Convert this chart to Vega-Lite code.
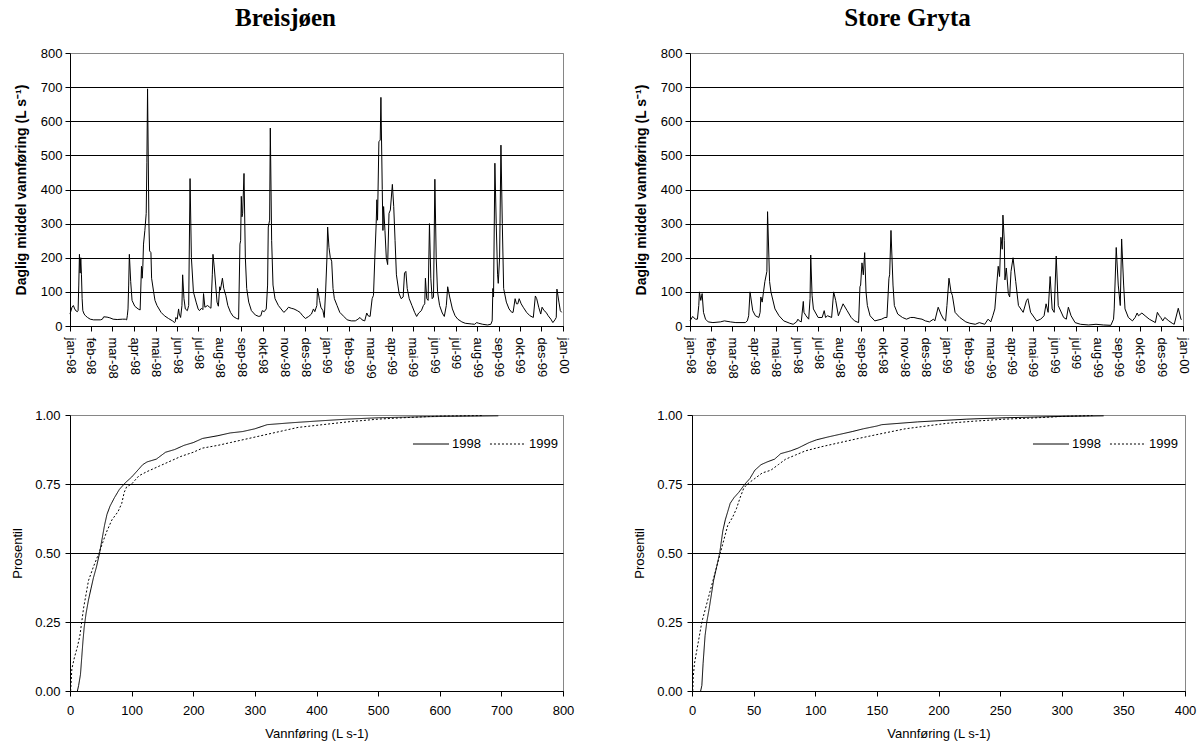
{
  "$schema": "https://vega.github.io/schema/vega-lite/v6.json",
  "padding": {"left": 11, "top": 5, "right": 0, "bottom": 0},
  "background": "#ffffff",
  "config": {
    "font": "Liberation Sans",
    "view": {"stroke": "#868686", "strokeWidth": 1},
    "axis": {"labelFont": "Liberation Sans", "labelFontSize": 13, "labelColor": "#000", "titleFont": "Liberation Sans", "titleFontSize": 13, "titleColor": "#000", "titleFontWeight": "normal", "domainColor": "#000", "domainWidth": 1, "tickColor": "#000", "tickWidth": 1, "tickSize": 5, "gridColor": "#000", "gridWidth": 1, "labelFlush": false, "labelOverlap": false, "labelBound": false},
    "title": {"font": "Liberation Serif", "fontSize": 25, "fontWeight": "bold", "color": "#000", "anchor": "middle"},
    "legend": {"labelFont": "Liberation Sans", "labelFontSize": 13, "labelColor": "#000"}
  },
  "datasets": {
    "breis": [
      {"date":"1998-01-01","q":35},{"date":"1998-01-04","q":55},{"date":"1998-01-06","q":60},{"date":"1998-01-08","q":50},{"date":"1998-01-10","q":44},{"date":"1998-01-12","q":42},{"date":"1998-01-13","q":45},{"date":"1998-01-14","q":120},{"date":"1998-01-15","q":210},{"date":"1998-01-16","q":155},{"date":"1998-01-17","q":200},{"date":"1998-01-18","q":150},{"date":"1998-01-19","q":80},{"date":"1998-01-20","q":45},{"date":"1998-01-22","q":35},{"date":"1998-01-24","q":30},{"date":"1998-01-27","q":25},{"date":"1998-01-31","q":20},{"date":"1998-02-05","q":18},{"date":"1998-02-15","q":18},{"date":"1998-02-18","q":20},{"date":"1998-02-20","q":27},{"date":"1998-02-25","q":26},{"date":"1998-03-01","q":24},{"date":"1998-03-06","q":20},{"date":"1998-03-12","q":19},{"date":"1998-03-20","q":20},{"date":"1998-03-24","q":20},{"date":"1998-03-26","q":18},{"date":"1998-03-27","q":30},{"date":"1998-03-28","q":50},{"date":"1998-03-29","q":120},{"date":"1998-03-30","q":210},{"date":"1998-04-01","q":130},{"date":"1998-04-03","q":75},{"date":"1998-04-07","q":58},{"date":"1998-04-12","q":50},{"date":"1998-04-15","q":47},{"date":"1998-04-17","q":175},{"date":"1998-04-18","q":140},{"date":"1998-04-19","q":175},{"date":"1998-04-20","q":240},{"date":"1998-04-22","q":280},{"date":"1998-04-24","q":330},{"date":"1998-04-25","q":480},{"date":"1998-04-26","q":695},{"date":"1998-04-28","q":300},{"date":"1998-04-29","q":220},{"date":"1998-05-01","q":215},{"date":"1998-05-02","q":140},{"date":"1998-05-05","q":100},{"date":"1998-05-07","q":75},{"date":"1998-05-10","q":60},{"date":"1998-05-16","q":40},{"date":"1998-05-21","q":30},{"date":"1998-05-27","q":22},{"date":"1998-06-02","q":15},{"date":"1998-06-05","q":10},{"date":"1998-06-06","q":12},{"date":"1998-06-07","q":25},{"date":"1998-06-09","q":20},{"date":"1998-06-11","q":50},{"date":"1998-06-12","q":35},{"date":"1998-06-14","q":25},{"date":"1998-06-16","q":60},{"date":"1998-06-17","q":150},{"date":"1998-06-19","q":80},{"date":"1998-06-21","q":50},{"date":"1998-06-24","q":45},{"date":"1998-06-26","q":60},{"date":"1998-06-28","q":432},{"date":"1998-06-30","q":200},{"date":"1998-07-03","q":100},{"date":"1998-07-07","q":70},{"date":"1998-07-10","q":50},{"date":"1998-07-12","q":45},{"date":"1998-07-15","q":52},{"date":"1998-07-17","q":48},{"date":"1998-07-18","q":95},{"date":"1998-07-20","q":55},{"date":"1998-07-24","q":60},{"date":"1998-07-27","q":55},{"date":"1998-07-29","q":52},{"date":"1998-07-31","q":150},{"date":"1998-08-01","q":210},{"date":"1998-08-03","q":170},{"date":"1998-08-05","q":120},{"date":"1998-08-07","q":70},{"date":"1998-08-09","q":58},{"date":"1998-08-11","q":115},{"date":"1998-08-12","q":105},{"date":"1998-08-15","q":140},{"date":"1998-08-17","q":110},{"date":"1998-08-20","q":90},{"date":"1998-08-23","q":60},{"date":"1998-08-27","q":40},{"date":"1998-08-31","q":28},{"date":"1998-09-05","q":22},{"date":"1998-09-08","q":20},{"date":"1998-09-10","q":240},{"date":"1998-09-11","q":250},{"date":"1998-09-12","q":380},{"date":"1998-09-13","q":320},{"date":"1998-09-14","q":330},{"date":"1998-09-16","q":447},{"date":"1998-09-18","q":200},{"date":"1998-09-20","q":110},{"date":"1998-09-23","q":70},{"date":"1998-09-27","q":45},{"date":"1998-10-03","q":32},{"date":"1998-10-08","q":28},{"date":"1998-10-11","q":30},{"date":"1998-10-13","q":45},{"date":"1998-10-16","q":42},{"date":"1998-10-19","q":50},{"date":"1998-10-21","q":120},{"date":"1998-10-22","q":290},{"date":"1998-10-24","q":310},{"date":"1998-10-25","q":580},{"date":"1998-10-27","q":250},{"date":"1998-10-29","q":120},{"date":"1998-11-01","q":80},{"date":"1998-11-06","q":60},{"date":"1998-11-10","q":50},{"date":"1998-11-14","q":40},{"date":"1998-11-17","q":45},{"date":"1998-11-21","q":55},{"date":"1998-11-25","q":52},{"date":"1998-11-29","q":50},{"date":"1998-12-04","q":45},{"date":"1998-12-08","q":40},{"date":"1998-12-12","q":30},{"date":"1998-12-16","q":22},{"date":"1998-12-21","q":28},{"date":"1998-12-25","q":35},{"date":"1998-12-28","q":50},{"date":"1998-12-30","q":42},{"date":"1999-01-02","q":60},{"date":"1999-01-03","q":110},{"date":"1999-01-06","q":75},{"date":"1999-01-08","q":55},{"date":"1999-01-11","q":45},{"date":"1999-01-13","q":25},{"date":"1999-01-15","q":100},{"date":"1999-01-17","q":200},{"date":"1999-01-18","q":290},{"date":"1999-01-20","q":230},{"date":"1999-01-22","q":200},{"date":"1999-01-24","q":190},{"date":"1999-01-26","q":110},{"date":"1999-01-28","q":80},{"date":"1999-02-01","q":60},{"date":"1999-02-05","q":40},{"date":"1999-02-11","q":28},{"date":"1999-02-16","q":18},{"date":"1999-02-22","q":15},{"date":"1999-02-28","q":15},{"date":"1999-03-04","q":20},{"date":"1999-03-07","q":25},{"date":"1999-03-10","q":18},{"date":"1999-03-14","q":15},{"date":"1999-03-17","q":38},{"date":"1999-03-19","q":30},{"date":"1999-03-22","q":28},{"date":"1999-03-25","q":80},{"date":"1999-03-27","q":90},{"date":"1999-03-29","q":200},{"date":"1999-03-31","q":300},{"date":"1999-04-01","q":370},{"date":"1999-04-02","q":310},{"date":"1999-04-04","q":540},{"date":"1999-04-06","q":545},{"date":"1999-04-07","q":670},{"date":"1999-04-09","q":400},{"date":"1999-04-10","q":280},{"date":"1999-04-11","q":350},{"date":"1999-04-13","q":280},{"date":"1999-04-15","q":200},{"date":"1999-04-17","q":180},{"date":"1999-04-19","q":330},{"date":"1999-04-21","q":340},{"date":"1999-04-24","q":415},{"date":"1999-04-26","q":350},{"date":"1999-04-28","q":250},{"date":"1999-04-30","q":150},{"date":"1999-05-04","q":95},{"date":"1999-05-07","q":80},{"date":"1999-05-10","q":85},{"date":"1999-05-12","q":155},{"date":"1999-05-14","q":160},{"date":"1999-05-16","q":110},{"date":"1999-05-19","q":80},{"date":"1999-05-23","q":60},{"date":"1999-05-27","q":40},{"date":"1999-05-30","q":28},{"date":"1999-06-02","q":38},{"date":"1999-06-06","q":45},{"date":"1999-06-09","q":60},{"date":"1999-06-11","q":65},{"date":"1999-06-12","q":140},{"date":"1999-06-14","q":80},{"date":"1999-06-16","q":75},{"date":"1999-06-18","q":300},{"date":"1999-06-20","q":140},{"date":"1999-06-22","q":80},{"date":"1999-06-24","q":85},{"date":"1999-06-26","q":430},{"date":"1999-06-28","q":200},{"date":"1999-06-30","q":100},{"date":"1999-07-03","q":60},{"date":"1999-07-07","q":38},{"date":"1999-07-10","q":28},{"date":"1999-07-13","q":60},{"date":"1999-07-15","q":115},{"date":"1999-07-18","q":85},{"date":"1999-07-22","q":50},{"date":"1999-07-26","q":30},{"date":"1999-07-30","q":20},{"date":"1999-08-05","q":12},{"date":"1999-08-10","q":8},{"date":"1999-08-19","q":6},{"date":"1999-08-24","q":5},{"date":"1999-08-27","q":10},{"date":"1999-08-30","q":8},{"date":"1999-09-05","q":5},{"date":"1999-09-12","q":3},{"date":"1999-09-17","q":5},{"date":"1999-09-19","q":15},{"date":"1999-09-20","q":110},{"date":"1999-09-21","q":85},{"date":"1999-09-23","q":477},{"date":"1999-09-25","q":300},{"date":"1999-09-27","q":150},{"date":"1999-09-28","q":125},{"date":"1999-09-30","q":200},{"date":"1999-10-02","q":530},{"date":"1999-10-04","q":300},{"date":"1999-10-06","q":110},{"date":"1999-10-10","q":70},{"date":"1999-10-14","q":50},{"date":"1999-10-18","q":40},{"date":"1999-10-20","q":40},{"date":"1999-10-23","q":80},{"date":"1999-10-25","q":65},{"date":"1999-10-27","q":65},{"date":"1999-10-29","q":80},{"date":"1999-11-01","q":65},{"date":"1999-11-04","q":55},{"date":"1999-11-09","q":40},{"date":"1999-11-14","q":30},{"date":"1999-11-19","q":25},{"date":"1999-11-22","q":88},{"date":"1999-11-24","q":80},{"date":"1999-11-27","q":55},{"date":"1999-11-30","q":35},{"date":"1999-12-02","q":55},{"date":"1999-12-05","q":45},{"date":"1999-12-08","q":40},{"date":"1999-12-11","q":30},{"date":"1999-12-15","q":20},{"date":"1999-12-18","q":10},{"date":"1999-12-21","q":18},{"date":"1999-12-23","q":25},{"date":"1999-12-24","q":108},{"date":"1999-12-27","q":70},{"date":"1999-12-29","q":45},{"date":"1999-12-31","q":40}
    ],
    "gryta": [
      {"date":"1998-01-01","q":15},{"date":"1998-01-05","q":28},{"date":"1998-01-09","q":20},{"date":"1998-01-12","q":20},{"date":"1998-01-14","q":60},{"date":"1998-01-15","q":100},{"date":"1998-01-17","q":75},{"date":"1998-01-19","q":95},{"date":"1998-01-21","q":40},{"date":"1998-01-24","q":20},{"date":"1998-01-28","q":12},{"date":"1998-02-04","q":10},{"date":"1998-02-15","q":12},{"date":"1998-02-21","q":15},{"date":"1998-03-02","q":12},{"date":"1998-03-10","q":10},{"date":"1998-03-24","q":10},{"date":"1998-03-27","q":15},{"date":"1998-03-29","q":30},{"date":"1998-03-31","q":100},{"date":"1998-04-04","q":45},{"date":"1998-04-08","q":30},{"date":"1998-04-13","q":25},{"date":"1998-04-15","q":40},{"date":"1998-04-16","q":85},{"date":"1998-04-18","q":70},{"date":"1998-04-20","q":100},{"date":"1998-04-22","q":130},{"date":"1998-04-25","q":160},{"date":"1998-04-26","q":335},{"date":"1998-04-28","q":200},{"date":"1998-04-29","q":130},{"date":"1998-05-01","q":100},{"date":"1998-05-07","q":50},{"date":"1998-05-13","q":30},{"date":"1998-05-20","q":15},{"date":"1998-05-29","q":8},{"date":"1998-06-03","q":5},{"date":"1998-06-08","q":12},{"date":"1998-06-10","q":20},{"date":"1998-06-12","q":15},{"date":"1998-06-15","q":12},{"date":"1998-06-18","q":72},{"date":"1998-06-19","q":40},{"date":"1998-06-22","q":30},{"date":"1998-06-26","q":20},{"date":"1998-06-28","q":80},{"date":"1998-06-29","q":208},{"date":"1998-07-01","q":90},{"date":"1998-07-03","q":50},{"date":"1998-07-10","q":25},{"date":"1998-07-16","q":25},{"date":"1998-07-19","q":45},{"date":"1998-07-21","q":25},{"date":"1998-07-24","q":30},{"date":"1998-07-30","q":25},{"date":"1998-08-02","q":100},{"date":"1998-08-05","q":75},{"date":"1998-08-09","q":30},{"date":"1998-08-12","q":45},{"date":"1998-08-16","q":65},{"date":"1998-08-22","q":45},{"date":"1998-08-28","q":25},{"date":"1998-09-02","q":15},{"date":"1998-09-08","q":10},{"date":"1998-09-10","q":115},{"date":"1998-09-11","q":120},{"date":"1998-09-13","q":185},{"date":"1998-09-15","q":150},{"date":"1998-09-17","q":215},{"date":"1998-09-19","q":100},{"date":"1998-09-21","q":60},{"date":"1998-09-25","q":30},{"date":"1998-10-02","q":15},{"date":"1998-10-12","q":20},{"date":"1998-10-17","q":25},{"date":"1998-10-20","q":25},{"date":"1998-10-23","q":140},{"date":"1998-10-24","q":150},{"date":"1998-10-26","q":280},{"date":"1998-10-29","q":120},{"date":"1998-10-31","q":60},{"date":"1998-11-05","q":35},{"date":"1998-11-12","q":25},{"date":"1998-11-18","q":20},{"date":"1998-11-24","q":25},{"date":"1998-11-29","q":25},{"date":"1998-12-05","q":22},{"date":"1998-12-11","q":20},{"date":"1998-12-16","q":15},{"date":"1998-12-22","q":12},{"date":"1998-12-28","q":20},{"date":"1998-12-30","q":15},{"date":"1999-01-04","q":55},{"date":"1999-01-08","q":35},{"date":"1999-01-12","q":20},{"date":"1999-01-15","q":15},{"date":"1999-01-17","q":60},{"date":"1999-01-20","q":140},{"date":"1999-01-23","q":100},{"date":"1999-01-25","q":90},{"date":"1999-01-29","q":40},{"date":"1999-02-05","q":25},{"date":"1999-02-14","q":12},{"date":"1999-02-20","q":8},{"date":"1999-02-28","q":5},{"date":"1999-03-06","q":10},{"date":"1999-03-14","q":5},{"date":"1999-03-19","q":20},{"date":"1999-03-23","q":12},{"date":"1999-03-26","q":30},{"date":"1999-03-29","q":50},{"date":"1999-03-31","q":100},{"date":"1999-04-03","q":175},{"date":"1999-04-05","q":145},{"date":"1999-04-07","q":260},{"date":"1999-04-09","q":225},{"date":"1999-04-10","q":325},{"date":"1999-04-12","q":250},{"date":"1999-04-13","q":135},{"date":"1999-04-15","q":170},{"date":"1999-04-18","q":95},{"date":"1999-04-20","q":85},{"date":"1999-04-22","q":160},{"date":"1999-04-25","q":200},{"date":"1999-04-29","q":130},{"date":"1999-05-03","q":60},{"date":"1999-05-10","q":40},{"date":"1999-05-15","q":75},{"date":"1999-05-17","q":80},{"date":"1999-05-21","q":40},{"date":"1999-05-30","q":15},{"date":"1999-06-05","q":20},{"date":"1999-06-10","q":30},{"date":"1999-06-13","q":65},{"date":"1999-06-16","q":40},{"date":"1999-06-19","q":145},{"date":"1999-06-22","q":50},{"date":"1999-06-25","q":40},{"date":"1999-06-28","q":205},{"date":"1999-07-01","q":60},{"date":"1999-07-09","q":25},{"date":"1999-07-13","q":20},{"date":"1999-07-16","q":55},{"date":"1999-07-20","q":30},{"date":"1999-07-26","q":10},{"date":"1999-08-03","q":5},{"date":"1999-08-15","q":3},{"date":"1999-08-26","q":5},{"date":"1999-09-06","q":3},{"date":"1999-09-17","q":2},{"date":"1999-09-21","q":20},{"date":"1999-09-22","q":50},{"date":"1999-09-25","q":230},{"date":"1999-09-28","q":120},{"date":"1999-10-01","q":60},{"date":"1999-10-03","q":255},{"date":"1999-10-06","q":120},{"date":"1999-10-08","q":50},{"date":"1999-10-13","q":25},{"date":"1999-10-19","q":15},{"date":"1999-10-23","q":25},{"date":"1999-10-26","q":38},{"date":"1999-10-28","q":30},{"date":"1999-11-02","q":38},{"date":"1999-11-08","q":28},{"date":"1999-11-13","q":20},{"date":"1999-11-22","q":10},{"date":"1999-11-25","q":40},{"date":"1999-11-28","q":30},{"date":"1999-11-30","q":25},{"date":"1999-12-03","q":15},{"date":"1999-12-06","q":25},{"date":"1999-12-12","q":15},{"date":"1999-12-17","q":8},{"date":"1999-12-20","q":5},{"date":"1999-12-26","q":52},{"date":"1999-12-30","q":20},{"date":"1999-12-31","q":18}
    ],
    "cdfBreis": [
      {"year":"1998","q":12,"p":0},{"year":"1998","q":14,"p":0.02},{"year":"1998","q":17,"p":0.06},{"year":"1998","q":19,"p":0.12},{"year":"1998","q":21,"p":0.18},{"year":"1998","q":23,"p":0.23},{"year":"1998","q":26,"p":0.28},{"year":"1998","q":30,"p":0.33},{"year":"1998","q":34,"p":0.37},{"year":"1998","q":38,"p":0.41},{"year":"1998","q":43,"p":0.45},{"year":"1998","q":48,"p":0.5},{"year":"1998","q":52,"p":0.55},{"year":"1998","q":56,"p":0.6},{"year":"1998","q":60,"p":0.64},{"year":"1998","q":65,"p":0.67},{"year":"1998","q":72,"p":0.7},{"year":"1998","q":80,"p":0.73},{"year":"1998","q":90,"p":0.755},{"year":"1998","q":100,"p":0.775},{"year":"1998","q":110,"p":0.8},{"year":"1998","q":118,"p":0.82},{"year":"1998","q":125,"p":0.83},{"year":"1998","q":140,"p":0.84},{"year":"1998","q":155,"p":0.865},{"year":"1998","q":170,"p":0.875},{"year":"1998","q":185,"p":0.89},{"year":"1998","q":200,"p":0.9},{"year":"1998","q":215,"p":0.915},{"year":"1998","q":240,"p":0.925},{"year":"1998","q":260,"p":0.935},{"year":"1998","q":280,"p":0.94},{"year":"1998","q":300,"p":0.95},{"year":"1998","q":320,"p":0.965},{"year":"1998","q":360,"p":0.972},{"year":"1998","q":400,"p":0.978},{"year":"1998","q":450,"p":0.985},{"year":"1998","q":500,"p":0.99},{"year":"1998","q":580,"p":0.994},{"year":"1998","q":695,"p":0.997},
      {"year":"1999","q":1,"p":0},{"year":"1999","q":3,"p":0.08},{"year":"1999","q":7,"p":0.12},{"year":"1999","q":12,"p":0.16},{"year":"1999","q":16,"p":0.2},{"year":"1999","q":19,"p":0.25},{"year":"1999","q":22,"p":0.3},{"year":"1999","q":26,"p":0.35},{"year":"1999","q":30,"p":0.4},{"year":"1999","q":38,"p":0.45},{"year":"1999","q":47,"p":0.5},{"year":"1999","q":55,"p":0.55},{"year":"1999","q":60,"p":0.58},{"year":"1999","q":68,"p":0.62},{"year":"1999","q":78,"p":0.65},{"year":"1999","q":84,"p":0.68},{"year":"1999","q":88,"p":0.72},{"year":"1999","q":92,"p":0.74},{"year":"1999","q":100,"p":0.75},{"year":"1999","q":112,"p":0.78},{"year":"1999","q":125,"p":0.795},{"year":"1999","q":145,"p":0.815},{"year":"1999","q":165,"p":0.835},{"year":"1999","q":180,"p":0.85},{"year":"1999","q":200,"p":0.865},{"year":"1999","q":215,"p":0.88},{"year":"1999","q":240,"p":0.89},{"year":"1999","q":260,"p":0.9},{"year":"1999","q":290,"p":0.915},{"year":"1999","q":320,"p":0.93},{"year":"1999","q":350,"p":0.945},{"year":"1999","q":370,"p":0.955},{"year":"1999","q":410,"p":0.965},{"year":"1999","q":450,"p":0.975},{"year":"1999","q":500,"p":0.985},{"year":"1999","q":540,"p":0.99},{"year":"1999","q":600,"p":0.996},{"year":"1999","q":670,"p":0.998}
    ],
    "cdfGryta": [
      {"year":"1998","q":7,"p":0},{"year":"1998","q":8,"p":0.02},{"year":"1998","q":9,"p":0.1},{"year":"1998","q":10.6,"p":0.2},{"year":"1998","q":12,"p":0.25},{"year":"1998","q":14,"p":0.3},{"year":"1998","q":17.5,"p":0.4},{"year":"1998","q":20,"p":0.45},{"year":"1998","q":22.5,"p":0.5},{"year":"1998","q":25,"p":0.58},{"year":"1998","q":27,"p":0.62},{"year":"1998","q":29,"p":0.65},{"year":"1998","q":31,"p":0.68},{"year":"1998","q":34,"p":0.7},{"year":"1998","q":38,"p":0.72},{"year":"1998","q":43,"p":0.75},{"year":"1998","q":47,"p":0.77},{"year":"1998","q":51,"p":0.8},{"year":"1998","q":56,"p":0.82},{"year":"1998","q":61,"p":0.83},{"year":"1998","q":67,"p":0.84},{"year":"1998","q":72,"p":0.86},{"year":"1998","q":80,"p":0.87},{"year":"1998","q":86,"p":0.88},{"year":"1998","q":95,"p":0.9},{"year":"1998","q":101,"p":0.91},{"year":"1998","q":110,"p":0.92},{"year":"1998","q":120,"p":0.93},{"year":"1998","q":130,"p":0.94},{"year":"1998","q":139,"p":0.95},{"year":"1998","q":150,"p":0.96},{"year":"1998","q":154,"p":0.965},{"year":"1998","q":183,"p":0.975},{"year":"1998","q":223,"p":0.985},{"year":"1998","q":254,"p":0.99},{"year":"1998","q":301,"p":0.995},{"year":"1998","q":334,"p":0.997},
      {"year":"1999","q":0.6,"p":0},{"year":"1999","q":1,"p":0.05},{"year":"1999","q":2,"p":0.1},{"year":"1999","q":4,"p":0.15},{"year":"1999","q":6,"p":0.2},{"year":"1999","q":8,"p":0.25},{"year":"1999","q":11,"p":0.3},{"year":"1999","q":14,"p":0.35},{"year":"1999","q":17,"p":0.4},{"year":"1999","q":20,"p":0.45},{"year":"1999","q":23,"p":0.5},{"year":"1999","q":26,"p":0.55},{"year":"1999","q":29,"p":0.6},{"year":"1999","q":33,"p":0.63},{"year":"1999","q":36,"p":0.66},{"year":"1999","q":39,"p":0.7},{"year":"1999","q":42,"p":0.735},{"year":"1999","q":45,"p":0.75},{"year":"1999","q":51,"p":0.77},{"year":"1999","q":57,"p":0.79},{"year":"1999","q":64,"p":0.8},{"year":"1999","q":70,"p":0.82},{"year":"1999","q":76,"p":0.84},{"year":"1999","q":84,"p":0.855},{"year":"1999","q":92,"p":0.87},{"year":"1999","q":105,"p":0.885},{"year":"1999","q":120,"p":0.9},{"year":"1999","q":135,"p":0.915},{"year":"1999","q":151,"p":0.93},{"year":"1999","q":173,"p":0.95},{"year":"1999","q":190,"p":0.96},{"year":"1999","q":207,"p":0.97},{"year":"1999","q":230,"p":0.978},{"year":"1999","q":254,"p":0.985},{"year":"1999","q":280,"p":0.99},{"year":"1999","q":301,"p":0.995},{"year":"1999","q":325,"p":0.998}
    ]
  },
  "spacing": 29,
  "vconcat": [
    {
      "spacing": 63,
      "hconcat": [
        {
          "width": 493, "height": 273,
          "title": {"text": "Breisjøen", "dx": -31, "offset": 16},
          "data": {"name": "breis"},
          "mark": {"type": "line", "color": "#000", "strokeWidth": 1},
          "encoding": {
            "x": {"field": "date", "type": "temporal",
              "scale": {"type": "utc", "domain": [{"year": 1998, "month": 1, "date": 1, "utc": true}, {"year": 2000, "month": 1, "date": 2, "utc": true}]},
              "axis": {"title": null, "grid": false, "labelAngle": 90, "labelPadding": 6,
                "values": [{"year":1998,"month":1,"date":1,"utc":true},{"year":1998,"month":2,"date":1,"utc":true},{"year":1998,"month":3,"date":5,"utc":true},{"year":1998,"month":4,"date":6,"utc":true},{"year":1998,"month":5,"date":8,"utc":true},{"year":1998,"month":6,"date":9,"utc":true},{"year":1998,"month":7,"date":10,"utc":true},{"year":1998,"month":8,"date":11,"utc":true},{"year":1998,"month":9,"date":12,"utc":true},{"year":1998,"month":10,"date":14,"utc":true},{"year":1998,"month":11,"date":15,"utc":true},{"year":1998,"month":12,"date":16,"utc":true},{"year":1999,"month":1,"date":17,"utc":true},{"year":1999,"month":2,"date":18,"utc":true},{"year":1999,"month":3,"date":22,"utc":true},{"year":1999,"month":4,"date":23,"utc":true},{"year":1999,"month":5,"date":24,"utc":true},{"year":1999,"month":6,"date":25,"utc":true},{"year":1999,"month":7,"date":27,"utc":true},{"year":1999,"month":8,"date":28,"utc":true},{"year":1999,"month":9,"date":29,"utc":true},{"year":1999,"month":10,"date":30,"utc":true},{"year":1999,"month":12,"date":1,"utc":true},{"year":2000,"month":1,"date":2,"utc":true}],
                "labelExpr": "['jan','feb','mar','apr','mai','jun','jul','aug','sep','okt','nov','des'][utcmonth(datum.value)] + '-' + utcFormat(datum.value, '%y')"}},
            "y": {"field": "q", "type": "quantitative", "scale": {"domain": [0, 800]},
              "axis": {"title": "Daglig middel vannføring (L s⁻¹)", "titleFontWeight": "bold", "titleFontSize": 14, "titlePadding": 12, "labelPadding": 3, "values": [0,100,200,300,400,500,600,700,800], "grid": true,
                "gridColor": {"condition": {"test": "datum.value >= 800", "value": "#868686"}, "value": "#000"}}}
          }
        },
        {
          "width": 493, "height": 273,
          "title": {"text": "Store Gryta", "dx": -29, "offset": 16},
          "data": {"name": "gryta"},
          "mark": {"type": "line", "color": "#000", "strokeWidth": 1},
          "encoding": {
            "x": {"field": "date", "type": "temporal",
              "scale": {"type": "utc", "domain": [{"year": 1998, "month": 1, "date": 1, "utc": true}, {"year": 2000, "month": 1, "date": 2, "utc": true}]},
              "axis": {"title": null, "grid": false, "labelAngle": 90, "labelPadding": 6,
                "values": [{"year":1998,"month":1,"date":1,"utc":true},{"year":1998,"month":2,"date":1,"utc":true},{"year":1998,"month":3,"date":5,"utc":true},{"year":1998,"month":4,"date":6,"utc":true},{"year":1998,"month":5,"date":8,"utc":true},{"year":1998,"month":6,"date":9,"utc":true},{"year":1998,"month":7,"date":10,"utc":true},{"year":1998,"month":8,"date":11,"utc":true},{"year":1998,"month":9,"date":12,"utc":true},{"year":1998,"month":10,"date":14,"utc":true},{"year":1998,"month":11,"date":15,"utc":true},{"year":1998,"month":12,"date":16,"utc":true},{"year":1999,"month":1,"date":17,"utc":true},{"year":1999,"month":2,"date":18,"utc":true},{"year":1999,"month":3,"date":22,"utc":true},{"year":1999,"month":4,"date":23,"utc":true},{"year":1999,"month":5,"date":24,"utc":true},{"year":1999,"month":6,"date":25,"utc":true},{"year":1999,"month":7,"date":27,"utc":true},{"year":1999,"month":8,"date":28,"utc":true},{"year":1999,"month":9,"date":29,"utc":true},{"year":1999,"month":10,"date":30,"utc":true},{"year":1999,"month":12,"date":1,"utc":true},{"year":2000,"month":1,"date":2,"utc":true}],
                "labelExpr": "['jan','feb','mar','apr','mai','jun','jul','aug','sep','okt','nov','des'][utcmonth(datum.value)] + '-' + utcFormat(datum.value, '%y')"}},
            "y": {"field": "q", "type": "quantitative", "scale": {"domain": [0, 800]},
              "axis": {"title": "Daglig middel vannføring (L s⁻¹)", "titleFontWeight": "bold", "titleFontSize": 14, "titlePadding": 12, "labelPadding": 3, "values": [0,100,200,300,400,500,600,700,800], "grid": true,
                "gridColor": {"condition": {"test": "datum.value >= 800", "value": "#868686"}, "value": "#000"}}}
          }
        }
      ]
    },
    {
      "spacing": 58,
      "resolve": {"scale": {"strokeDash": "independent"}, "legend": {"strokeDash": "independent"}},
      "hconcat": [
        {
          "width": 493, "height": 276,
          "data": {"name": "cdfBreis"},
          "mark": {"type": "line", "color": "#000", "strokeWidth": 1},
          "encoding": {
            "x": {"field": "q", "type": "quantitative", "scale": {"domain": [0, 800]},
              "axis": {"title": "Vannføring (L s-1)", "grid": false, "values": [0,100,200,300,400,500,600,700,800], "labelPadding": 8, "titlePadding": 10}},
            "y": {"field": "p", "type": "quantitative", "scale": {"domain": [0, 1]},
              "axis": {"title": "Prosentil", "format": ".2f", "values": [0,0.25,0.5,0.75,1], "grid": true, "labelPadding": 5, "titlePadding": 10,
                "gridColor": {"condition": {"test": "datum.value >= 1", "value": "#868686"}, "value": "#000"}}},
            "strokeDash": {"field": "year", "type": "nominal",
              "scale": {"domain": ["1998", "1999"], "range": [[1, 0], [2, 2]]},
              "legend": {"orient": "none", "legendX": 342, "legendY": 10, "direction": "horizontal", "title": null, "symbolType": "stroke", "symbolSize": 1300, "symbolStrokeColor": "#000", "symbolStrokeWidth": 1, "labelOffset": 2, "columnPadding": 6}},
            "order": {"field": "q", "type": "quantitative"}
          }
        },
        {
          "width": 493, "height": 276,
          "data": {"name": "cdfGryta"},
          "mark": {"type": "line", "color": "#000", "strokeWidth": 1},
          "encoding": {
            "x": {"field": "q", "type": "quantitative", "scale": {"domain": [0, 400]},
              "axis": {"title": "Vannføring (L s-1)", "grid": false, "values": [0,50,100,150,200,250,300,350,400], "labelPadding": 8, "titlePadding": 10}},
            "y": {"field": "p", "type": "quantitative", "scale": {"domain": [0, 1]},
              "axis": {"title": "Prosentil", "format": ".2f", "values": [0,0.25,0.5,0.75,1], "grid": true, "labelPadding": 5, "titlePadding": 10,
                "gridColor": {"condition": {"test": "datum.value >= 1", "value": "#868686"}, "value": "#000"}}},
            "strokeDash": {"field": "year", "type": "nominal",
              "scale": {"domain": ["1998", "1999"], "range": [[1, 0], [2, 2]]},
              "legend": {"orient": "none", "legendX": 340, "legendY": 10, "direction": "horizontal", "title": null, "symbolType": "stroke", "symbolSize": 1300, "symbolStrokeColor": "#000", "symbolStrokeWidth": 1, "labelOffset": 2, "columnPadding": 6}},
            "order": {"field": "q", "type": "quantitative"}
          }
        }
      ]
    }
  ]
}
